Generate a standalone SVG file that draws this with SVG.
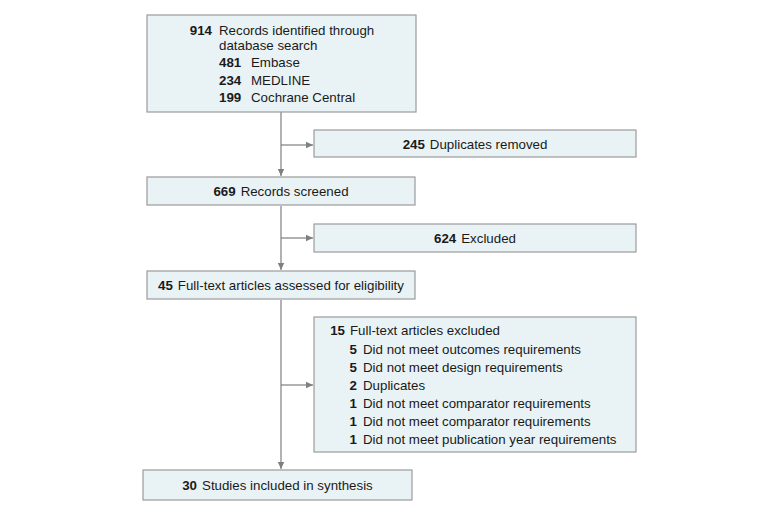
<svg xmlns="http://www.w3.org/2000/svg" width="780" height="512" viewBox="0 0 780 512">
<defs>
<style>
.box{fill:#e9f3f5;stroke:#9b9b9b;stroke-width:1.2}
.t{font-family:"Liberation Sans",Arial,sans-serif;font-size:13.3px;fill:#1a1a1a}
.b{font-weight:bold}
.ln{stroke:#7f7f7f;stroke-width:1.2;fill:none}
</style>
<marker id="ah" markerWidth="8" markerHeight="8" refX="7" refY="4" orient="auto" markerUnits="userSpaceOnUse">
<path d="M0,0.8 L7,4 L0,7.2 Z" fill="#7f7f7f"/>
</marker>
</defs>
<rect width="780" height="512" fill="#fff"/>
<g id="connectors">
<path class="ln" d="M281,112 V176" marker-end="url(#ah)"/>
<path class="ln" d="M281,145 H313" marker-end="url(#ah)"/>
<path class="ln" d="M281,206 V270" marker-end="url(#ah)"/>
<path class="ln" d="M281,238 H313" marker-end="url(#ah)"/>
<path class="ln" d="M281,300 V469" marker-end="url(#ah)"/>
<path class="ln" d="M281,385 H313" marker-end="url(#ah)"/>
</g>
<g id="identified">
<rect class="box" x="147" y="15" width="269" height="97"/>
<text class="t b" x="212" y="35" text-anchor="end">914</text>
<text class="t" x="219" y="35">Records identified through</text>
<text class="t" x="219" y="50">database search</text>
<text class="t"><tspan class="b" x="219" y="67">481</tspan><tspan x="251" y="67">Embase</tspan></text>
<text class="t"><tspan class="b" x="219" y="85">234</tspan><tspan x="251" y="85">MEDLINE</tspan></text>
<text class="t"><tspan class="b" x="219" y="102">199</tspan><tspan x="251" y="102">Cochrane Central</tspan></text>
</g>
<g id="duplicates">
<rect class="box" x="314" y="130" width="322" height="27"/>
<text class="t" x="475" y="148.5" text-anchor="middle"><tspan class="b">245</tspan><tspan dx="5">Duplicates removed</tspan></text>
</g>
<g id="screened">
<rect class="box" x="147" y="177" width="268" height="28"/>
<text class="t" x="281" y="196" text-anchor="middle"><tspan class="b">669</tspan><tspan dx="5">Records screened</tspan></text>
</g>
<g id="excluded">
<rect class="box" x="314" y="224" width="322" height="28"/>
<text class="t" x="475" y="242.5" text-anchor="middle"><tspan class="b">624</tspan><tspan dx="5">Excluded</tspan></text>
</g>
<g id="fulltext">
<rect class="box" x="147" y="271" width="268" height="28"/>
<text class="t" x="281" y="289.5" text-anchor="middle"><tspan class="b">45</tspan><tspan dx="5">Full-text articles assessed for eligibility</tspan></text>
</g>
<g id="ftexcluded">
<rect class="box" x="314" y="317" width="322" height="135"/>
<text class="t b" x="345" y="335" text-anchor="end">15</text>
<text class="t" x="350" y="335">Full-text articles excluded</text>
<text class="t b" x="357" y="354" text-anchor="end">5</text>
<text class="t" x="363" y="354">Did not meet outcomes requirements</text>
<text class="t b" x="357" y="372" text-anchor="end">5</text>
<text class="t" x="363" y="372">Did not meet design requirements</text>
<text class="t b" x="357" y="390" text-anchor="end">2</text>
<text class="t" x="363" y="390">Duplicates</text>
<text class="t b" x="357" y="408" text-anchor="end">1</text>
<text class="t" x="363" y="408">Did not meet comparator requirements</text>
<text class="t b" x="357" y="426" text-anchor="end">1</text>
<text class="t" x="363" y="426">Did not meet comparator requirements</text>
<text class="t b" x="357" y="444" text-anchor="end">1</text>
<text class="t" x="363" y="444">Did not meet publication year requirements</text>
</g>
<g id="included">
<rect class="box" x="143" y="470" width="269" height="30"/>
<text class="t" x="277.5" y="489.5" text-anchor="middle"><tspan class="b">30</tspan><tspan dx="5">Studies included in synthesis</tspan></text>
</g>
</svg>
